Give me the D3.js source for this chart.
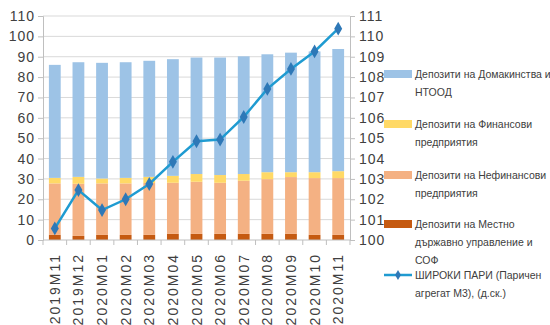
<!DOCTYPE html>
<html>
<head>
<meta charset="utf-8">
<script src="https://cdn.jsdelivr.net/npm/d3@7"></script>
<style>
  body { margin: 0; background: #fff; }
  text { font-family: "Liberation Sans", Arial, sans-serif; fill: #404040; }
</style>
</head>
<body>
<div id="chart"></div>
<script>
const months = ["2019M11", "2019M12", "2020M01", "2020M02", "2020M03", "2020M04", "2020M05",
    "2020M06", "2020M07", "2020M08", "2020M09", "2020M10", "2020M11"];
// stacked deposits (left axis)
const localGov = [2.5, 2, 2.5, 2.5, 2.5, 3, 3, 3, 3, 3, 3, 2.5, 2.5];
const nonFinancial = [25.3, 25.6, 25.3, 25.3, 25.5, 25.1, 25.6, 25.1, 26.1, 26.9, 27.9, 27.9, 27.9];
const financial = [2.7, 3.4, 2.4, 2.7, 3.0, 3.4, 3.8, 3.8, 3.3, 3.4, 2.4, 2.9, 3.4];
const households = [55.5, 56.3, 56.8, 56.8, 57.0, 57.3, 57.2, 57.7, 57.8, 57.9, 58.7, 59.3, 60.0];
// broad money index (right axis)
const broadMoney = [100.57, 102.45, 101.47, 102.0, 102.75, 103.84, 104.85, 104.93, 106.04, 107.42, 108.4, 109.26, 110.38];

const leftTicks = d3.range(0, 111, 10);
const rightTicks = d3.range(100, 112, 1);

const seriesNames = [
    ["Депозити на Домакинства и", "НТООД"],
    ["Депозити на Финансови", "предприятия"],
    ["Депозити на Нефинансови", "предприятия"],
    ["Депозити на Местно", "държавно управление и", "СОФ"]
];
const lineName = ["ШИРОКИ ПАРИ (Паричен", "агрегат М3), (д.ск.)"];

const colors = {
    localGov: "#c55a11",
    nonFinancial: "#f4b183",
    financial: "#ffd966",
    households: "#9dc3e6",
    line: "#1f9bd1",
    marker: "#2e78b7",
    grid: "#d9d9d9",
    axis: "#bfbfbf"
};

const width = 550, height = 325;
const margin = { top: 16, right: 200, bottom: 85, left: 43 };
const plotW = 350 - margin.left;
const plotH = 240 - margin.top;

const svg = d3.select("#chart")
    .append("svg")
    .attr("width", width)
    .attr("height", height);

const g = svg.append("g")
    .attr("transform", `translate(${margin.left},${margin.top})`);

const x = d3.scaleBand().domain(months).range([0, plotW]).paddingInner(0.5).paddingOuter(0.25);
const yL = d3.scaleLinear().domain([0, 110]).range([plotH, 0]);
const yR = d3.scaleLinear().domain([100, 111]).range([plotH, 0]);

// gridlines
g.append("g")
    .selectAll("line")
    .data(leftTicks.filter(d => d > 0))
    .join("line")
    .attr("x1", 0)
    .attr("x2", plotW)
    .attr("y1", d => yL(d))
    .attr("y2", d => yL(d))
    .attr("stroke", colors.grid)
    .attr("stroke-width", 1);

// stacked bars
const table = months.map((m, i) => ({
    month: m,
    localGov: localGov[i],
    nonFinancial: nonFinancial[i],
    financial: financial[i],
    households: households[i]
}));
const keys = ["localGov", "nonFinancial", "financial", "households"];
const stacked = d3.stack().keys(keys)(table);

g.append("g")
    .selectAll("g")
    .data(stacked)
    .join("g")
    .attr("fill", d => colors[d.key])
    .selectAll("rect")
    .data(d => d)
    .join("rect")
    .attr("x", d => x(d.data.month))
    .attr("width", x.bandwidth())
    .attr("y", d => yL(d[1]))
    .attr("height", d => yL(d[0]) - yL(d[1]));

// axes
const axisFont = "14px";
const leftAxis = g.append("g")
    .call(d3.axisLeft(yL).tickValues(leftTicks).tickSize(5).tickPadding(3));
const rightAxis = g.append("g")
    .attr("transform", `translate(${plotW},0)`)
    .call(d3.axisRight(yR).tickValues(rightTicks).tickSize(5).tickPadding(4));
[leftAxis, rightAxis].forEach(ax => {
    ax.select(".domain").attr("stroke", colors.axis);
    ax.selectAll(".tick line").attr("stroke", colors.axis);
    ax.selectAll("text")
        .attr("fill", "#404040")
        .style("font-size", axisFont)
        .style("letter-spacing", "1px");
});

// x axis with ticks between categories
const xAxis = g.append("g").attr("transform", `translate(0,${plotH})`);
xAxis.append("line")
    .attr("x1", 0).attr("x2", plotW)
    .attr("stroke", colors.axis);
xAxis.selectAll(".sep")
    .data(d3.range(months.length + 1))
    .join("line")
    .attr("class", "sep")
    .attr("x1", i => i * x.step())
    .attr("x2", i => i * x.step())
    .attr("y1", 0).attr("y2", 5)
    .attr("stroke", colors.axis);
xAxis.selectAll(".lbl")
    .data(months)
    .join("text")
    .attr("class", "lbl")
    .attr("transform", d => `translate(${x(d) + x.bandwidth() / 2 + 5},${13}) rotate(-90)`)
    .attr("text-anchor", "end")
    .style("font-size", axisFont)
    .style("letter-spacing", "2px")
    .text(d => d);

// line series
const line = d3.line()
    .x((d, i) => x(months[i]) + x.bandwidth() / 2)
    .y(d => yR(d));

g.append("path")
    .datum(broadMoney)
    .attr("d", line)
    .attr("fill", "none")
    .attr("stroke", colors.line)
    .attr("stroke-width", 2.5);

const diamond = d3.symbol().type(d3.symbolDiamond).size(55);
g.append("g")
    .selectAll("path")
    .data(broadMoney)
    .join("path")
    .attr("d", diamond)
    .attr("transform", (d, i) => `translate(${x(months[i]) + x.bandwidth() / 2},${yR(d)})`)
    .attr("fill", colors.marker);

// legend
const legendFont = "10.5px";
const legend = svg.append("g").attr("transform", "translate(384,0)");
const legendItems = [
    { color: colors.households, lines: seriesNames[0], y: 74 },
    { color: colors.financial, lines: seriesNames[1], y: 124 },
    { color: colors.nonFinancial, lines: seriesNames[2], y: 175 },
    { color: colors.localGov, lines: seriesNames[3], y: 224 }
];
legendItems.forEach(item => {
    legend.append("rect")
        .attr("x", 0)
        .attr("y", item.y - 4)
        .attr("width", 28)
        .attr("height", 8)
        .attr("fill", item.color);
    legend.append("text")
        .attr("x", 31)
        .attr("y", item.y)
        .style("font-size", legendFont)
        .selectAll("tspan")
        .data(item.lines)
        .join("tspan")
        .attr("x", 31)
        .attr("dy", (d, i) => i === 0 ? "0.35em" : "1.75em")
        .text(d => d);
});
legend.append("line")
    .attr("x1", 0).attr("x2", 28)
    .attr("y1", 275).attr("y2", 275)
    .attr("stroke", colors.line)
    .attr("stroke-width", 2.5);
legend.append("path")
    .attr("d", d3.symbol().type(d3.symbolDiamond).size(30))
    .attr("transform", "translate(14,275)")
    .attr("fill", colors.marker);
legend.append("text")
    .attr("x", 31)
    .attr("y", 275)
    .style("font-size", legendFont)
    .selectAll("tspan")
    .data(lineName)
    .join("tspan")
    .attr("x", 31)
    .attr("dy", (d, i) => i === 0 ? "0.35em" : "1.75em")
    .text(d => d);
</script>
</body>
</html>
